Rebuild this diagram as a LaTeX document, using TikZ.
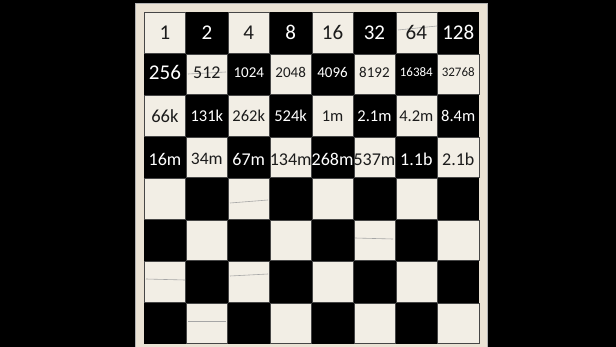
\documentclass[tikz,border=0pt]{standalone}
\usepackage{fontspec}
\setmainfont{Carlito}
\usetikzlibrary{positioning}

\definecolor{ivory}{RGB}{242,238,229}
\definecolor{framecol}{RGB}{234,226,212}
\definecolor{inkcol}{RGB}{28,28,28}
\newcommand{\cellw}{41.9}
\newcommand{\cellh}{41.5}

\begin{document}
\begin{tikzpicture}[
    x=1pt, y=-1pt,
    board/.style={fill=black},
    lightsq/.style={fill=ivory, draw=gray!55!black, line width=0.6pt},
    grain/.style={draw=gray!70, line width=0.6pt},
    num/.style={inner sep=0pt, anchor=center},
]
% Background and frame
\fill[black] (0,0) rectangle (616,347);
\useasboundingbox (0,0) rectangle (616,347);
\fill[framecol, draw=gray!60] (135,3) rectangle (487,347);
\fill[board] (144,12) rectangle (479,344);

% Squares
\foreach \r in {0,...,7}{
  \foreach \c in {0,...,7}{
    \pgfmathtruncatemacro\odd{mod(\r+\c,2)}
    \ifnum\odd=0
      \filldraw[lightsq] ({144+\c*\cellw+0.4},{12+\r*\cellh+0.4}) rectangle ++({\cellw-0.8},{\cellh-0.8});
    \fi
  }
}

% Grain on some light squares
\draw[grain] (398,30) -- (437,26);
\draw[grain] (188,74) -- (226,72);
\draw[grain] (230,203) -- (268,200);
\draw[grain] (355,238) -- (393,239);
\draw[grain] (146,279) -- (185,280);
\draw[grain] (230,276) -- (268,274);
\draw[grain] (188,321) -- (226,321);

% Numbers, one row at a time
\foreach \val/\sz [count=\c from 0] in {1/21,2/21,4/21,8/21,16/21,32/21,64/21,128/21}{
  \pgfmathtruncatemacro\odd{mod(\c,2)}
  \ifnum\odd=0 \def\tcol{inkcol}\else\def\tcol{white}\fi
  \node[num, text=\tcol, font=\fontsize{\sz pt}{\sz pt}\selectfont] (a\c) at ({144+(\c+0.5)*\cellw},{12+0.5*\cellh}) {\val};
}
\foreach \val/\sz [count=\c from 0] in {256/21,512/18,1024/15,2048/15,4096/15,8192/15,16384/13,32768/13}{
  \pgfmathtruncatemacro\odd{mod(\c+1,2)}
  \ifnum\odd=0 \def\tcol{inkcol}\else\def\tcol{white}\fi
  \node[num, text=\tcol, font=\fontsize{\sz pt}{\sz pt}\selectfont] (b\c) at ({144+(\c+0.5)*\cellw},{10+1.5*\cellh}) {\val};
}
\foreach \val/\sz [count=\c from 0] in {66k/18.5,131k/16.5,262k/16.5,524k/16.5,1m/16.5,2.1m/16.5,4.2m/16.5,8.4m/16.5}{
  \pgfmathtruncatemacro\odd{mod(\c,2)}
  \ifnum\odd=0 \def\tcol{inkcol}\else\def\tcol{white}\fi
  \node[num, text=\tcol, font=\fontsize{\sz pt}{\sz pt}\selectfont] (c\c) at ({144+(\c+0.5)*\cellw},{12+2.5*\cellh}) {\val};
}
\foreach \val/\sz [count=\c from 0] in {16m/18,34m/17.5,67m/18,134m/18,268m/18,537m/18,1.1b/18,2.1b/18}{
  \pgfmathtruncatemacro\odd{mod(\c+1,2)}
  \ifnum\odd=0 \def\tcol{inkcol}\else\def\tcol{white}\fi
  \node[num, text=\tcol, font=\fontsize{\sz pt}{\sz pt}\selectfont] (d\c) at ({144+(\c+0.5)*\cellw},{14+3.5*\cellh}) {\val};
}

\end{tikzpicture}
\end{document}
